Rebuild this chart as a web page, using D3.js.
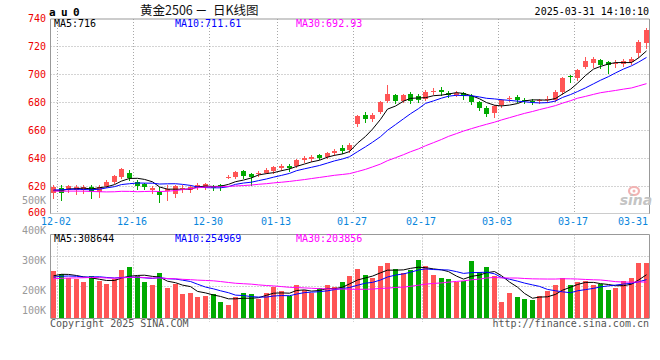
<!DOCTYPE html>
<html><head><meta charset="utf-8">
<script src="https://cdn.jsdelivr.net/npm/d3@7"></script>
<style>
html,body{margin:0;padding:0;background:#fff;}
svg{display:block;}
text{font-family:"DejaVu Sans Mono",monospace;}
</style></head><body>
<svg id="c" width="660" height="360"></svg>
<script>
// ---------------- data ----------------
const dates = ["12-02","12-03","12-04","12-05","12-06","12-09","12-10","12-11","12-12","12-13",
"12-16","12-17","12-18","12-19","12-20","12-23","12-24","12-25","12-26","12-27",
"12-30","12-31","01-02","01-03","01-06","01-07","01-08","01-09","01-10",
"01-13","01-14","01-15","01-16","01-17","01-20","01-21","01-22","01-23","01-24",
"01-27","02-05","02-06","02-07","02-10","02-11","02-12","02-13","02-14",
"02-17","02-18","02-19","02-20","02-21","02-24","02-25","02-26","02-27","02-28",
"03-03","03-04","03-05","03-06","03-07","03-10","03-11","03-12","03-13","03-14",
"03-17","03-18","03-19","03-20","03-21","03-24","03-25","03-26","03-27","03-28","03-31"];
const openP = [614.8,618.5,617.1,617.5,617.5,619.5,616,620,623,626.5,
629.5,623,621.5,617.5,616,616.6,614,618,617,619.5,
619.5,619.5,620.7,626,626.6,630.5,628.6,628.6,629.5,
630.5,632.5,634.5,634,638.5,639.5,642,640.5,643.5,647,
645.5,664,671,668,673,681,685,681,686,
684,682,687.5,688.5,686.5,685,686.5,684,680,676,
672,678,682,683.5,681.5,681,680.5,681.5,681.4,687.4,
698.6,697,705.2,707.6,710,708.8,707,707.1,708.8,714.8,721.9];
const highP = [620.7,620.5,620.7,621,621,620.5,620.5,624,628,633,
631.5,624,622,620,619.5,620.7,621,620.5,621,622,
622.5,621,621.5,628,631,631.5,629,631,632.5,
634.5,635.5,636,639.5,641.5,642,643,644.5,646.5,649,
651,671,672.5,672,681,692,686,686,687,
685.5,688.5,690,690.5,688,688,687.5,685.5,681,677,
678,682.5,684.5,685,683,682,682.5,684,688.6,698,
699.3,703.5,711.9,712.4,711,709.5,710,710.5,712,724.3,732.6];
const lowP = [611.4,610,616,614,615,611.5,612.5,619,622,626,
624.5,618,618,615,608.8,610,612,616,616,618,
618,617,617,625.5,626,626,620.7,627,629,
629.5,631.5,631,633.5,637.5,638,639,640,642.5,643.5,
644.5,663,666,666.5,672,680,679,680,679.5,
680,681.5,685.5,685,683.5,684,682,678.5,674.5,670,
669.5,676.5,680.5,680,679,678.5,679,680,680.5,686,
694.5,696,704,705.2,704.5,701,705,706,707,711.9,718.4];
const closeP = [619.5,614.8,620,619,619.5,616,619.5,623,627,632,
625.5,620,619,618.5,613.6,617.6,620,618.5,619.5,620.7,
621.2,618.4,619.1,626.5,630.2,627,626.2,629.5,631.4,
633.5,634,632.5,638.5,640,641,640,643.5,645,645,
649.5,670,667.5,671,680,686,681,685,681,
681.5,687,688,687,685,686.5,684,680,676,671.5,
677,681.5,683,681.5,681,680.5,681.5,682,687.4,697,
697.6,703,709.5,710.5,706.4,706.4,708,709.5,710.5,723,731.4];
const volume = [250000,240000,228000,222000,212000,232000,218000,208000,222000,252000,
262000,232000,212000,202000,242000,192000,207000,172000,177000,162000,
167000,172000,148000,137000,162000,177000,172000,157000,177000,
197000,182000,167000,202000,187000,177000,192000,202000,197000,212000,
232000,257000,237000,227000,267000,276000,257000,242000,252000,
287000,267000,237000,227000,222000,212000,217000,283000,247000,262000,
232000,148000,177000,162000,157000,152000,167000,182000,202000,227000,
202000,212000,217000,202000,207000,187000,192000,217000,227000,276000,276000];
// sessions before 12-02, needed for the moving averages at the left edge
const priorClose = [620,618,619,621,622,625,627,624,622,
627,628,614,613,620,611,604,600,598,601,
608,613,617,618,622,618,615,614,618,617];
const priorVolume = [190000,200000,210000,195000,205000,230000,250000,240000,220000,
215000,205000,260000,250000,230000,245000,235000,225000,215000,205000,
200000,210000,220000,230000,240000,225000,215000,230000,240000,235000];
const priceTicks = [740,720,700,680,660,640,620,600];
const priceGrid = [720,700,680,660,640,620];
const volumeTicks = [500000,400000,300000,200000,100000];
const volumeGrid = [300000,200000];
const dateTicks = ["12-02","12-16","12-30","01-13","01-27","02-17","03-03","03-17","03-31"];
const priceMALabels = ["MA5:716","MA10:711.61","MA30:692.93"];
const volumeMALabels = ["MA5:308644","MA10:254969","MA30:203856"];
const maPeriods = [5,10,30];
const maColors = ["#000000","#0000ff","#ff00ff"];
const titleSymbol = "au0";
const titleParts = ["黄金2506", "－", "日K线图"];
const stampText = "2025-03-31 14:10:10";

// ---------------- drawing ----------------
const svg = d3.select("#c");
const RED = "#ff5555", GREEN = "#00aa00", GRID = "#a8a8a8", BORDER = "#999";
const x = d3.scaleBand().domain(dates).range([49.2, 649.6]);
const bw = x.bandwidth();
const cx = d => x(d) + bw / 2;
const py = d3.scaleLinear().domain([600, 740]).range([214, 18]);
const vy = d3.scaleLinear().domain([100000, 300000]).range([316, 256]);
const PT = 19, PB = 213.5, VT = 234.5, VB = 318, XL = 50.5, XR = 649.5;

function ma(prior, vals, n) {
  const all = prior.concat(vals), P = prior.length;
  return vals.map((v, i) => d3.mean(all.slice(P + i - n + 1, P + i + 1)));
}

// grid
const g = svg.append("g");
priceGrid.forEach(v => {
  const yy = Math.round(py(v)) + 0.5;
  g.append("line").attr("x1", XL).attr("x2", XR).attr("y1", yy).attr("y2", yy)
    .attr("stroke", GRID).attr("stroke-dasharray", "1,2");
});
volumeGrid.forEach(v => {
  const yy = Math.round(vy(v)) + 0.5;
  g.append("line").attr("x1", XL).attr("x2", XR).attr("y1", yy).attr("y2", yy)
    .attr("stroke", GRID).attr("stroke-dasharray", "1,2");
});
dateTicks.slice(0, -1).forEach(d => {
  const xx = Math.round(x(d) + bw) + 0.5;
  g.append("line").attr("x1", xx).attr("x2", xx).attr("y1", PT).attr("y2", PB)
    .attr("stroke", GRID).attr("stroke-dasharray", "1,2");
  g.append("line").attr("x1", xx).attr("x2", xx).attr("y1", VT).attr("y2", 322)
    .attr("stroke", GRID).attr("stroke-dasharray", "1,2");
});
// price bottom (dotted)
g.append("line").attr("x1", XL).attr("x2", XR).attr("y1", PB).attr("y2", PB)
  .attr("stroke", BORDER).attr("stroke-dasharray", "1,1");

// borders
const b = svg.append("g").attr("stroke", BORDER).attr("fill", "none");
b.append("path").attr("d", `M${XL},${PB}V${PT}H${XR}V${PB}`);
b.append("path").attr("d", `M${XL},${VB}V${VT}H${XR}V${VB}`);
b.append("line").attr("x1", XL).attr("x2", XR).attr("y1", VB + 0.5).attr("y2", VB + 0.5);

// watermark
const wm = svg.append("g");
wm.append("ellipse").attr("cx", 634).attr("cy", 191).attr("rx", 5).attr("ry", 4)
  .attr("fill", "none").attr("stroke", "#f2b3b3").attr("stroke-width", 2.2);
wm.append("circle").attr("cx", 634).attr("cy", 191).attr("r", 1.5).attr("fill", "#f2b3b3");
wm.append("text").attr("x", 636).attr("y", 205).attr("text-anchor", "middle")
  .style("font-family", "'DejaVu Sans',sans-serif").style("font-style", "italic")
  .style("font-weight", "bold").style("font-size", "14px").attr("fill", "#c4c4c4").text("sina");

// candles
const idx = d3.range(dates.length);
const cg = svg.append("g");
idx.forEach(i => {
  const up = closeP[i] >= openP[i];
  const col = up ? RED : GREEN;
  const xc = Math.round(cx(dates[i]));
  cg.append("line").attr("x1", xc + 0.5).attr("x2", xc + 0.5)
    .attr("y1", Math.round(py(highP[i]))).attr("y2", Math.round(py(lowP[i])) + 1)
    .attr("stroke", col);
  const y1 = Math.round(py(Math.max(openP[i], closeP[i])));
  const y2 = Math.round(py(Math.min(openP[i], closeP[i])));
  cg.append("rect").attr("x", xc - 2).attr("width", 5)
    .attr("y", y1).attr("height", Math.max(1, y2 - y1)).attr("fill", col);
});

// volume bars
const vg = svg.append("g");
idx.forEach(i => {
  const up = closeP[i] >= openP[i];
  const xc = Math.round(cx(dates[i]));
  const yt = Math.round(vy(volume[i]));
  vg.append("rect").attr("x", xc - 2).attr("width", 5)
    .attr("y", yt).attr("height", VB - yt).attr("fill", up ? RED : GREEN);
});

// moving averages
maPeriods.forEach((n, k) => {
  const m = ma(priorClose, closeP, n);
  svg.append("path").datum(idx)
    .attr("d", d3.line().x(i => Math.round(cx(dates[i])) + 0.5).y(i => py(m[i])))
    .attr("fill", "none").attr("stroke", maColors[k]).attr("stroke-width", 1);
  const mv = ma(priorVolume, volume, n);
  svg.append("path").datum(idx)
    .attr("d", d3.line().x(i => Math.round(cx(dates[i])) + 0.5).y(i => vy(mv[i])))
    .attr("fill", "none").attr("stroke", maColors[k]).attr("stroke-width", 1);
});

// axis labels
const t = svg.append("g").style("font-size", "10px");
priceTicks.forEach(v => {
  const yy = Math.min(212, Math.max(16, py(v)));
  t.append("text").attr("x", 46).attr("y", yy + 3.6).attr("text-anchor", "end")
    .attr("fill", "#ee0000").text(v);
});
volumeTicks.forEach(v => {
  const yy = Math.min(310.5, vy(v) + 4);
  t.append("text").attr("x", 46).attr("y", yy + 3.6).attr("text-anchor", "end")
    .attr("fill", "#999").text((v / 1000) + "K");
});
dateTicks.forEach((d, k) => {
  const last = k === dateTicks.length - 1;
  const xx = last ? 648 : Math.round(x(d) + bw) - 1;
  t.append("text").attr("x", xx).attr("y", 224.6)
    .attr("text-anchor", last ? "end" : "middle").attr("fill", "#0a86dc").text(d);
});

// legends
const lx = [54, 175, 296];
priceMALabels.forEach((s, k) => t.append("text").attr("x", lx[k]).attr("y", 27.3)
  .attr("fill", maColors[k]).text(s));
volumeMALabels.forEach((s, k) => t.append("text").attr("x", lx[k]).attr("y", 241.6)
  .attr("fill", maColors[k]).text(s));

// header
svg.append("text").attr("x", 49).attr("y", 15.5).style("font-size", "11px")
  .style("font-weight", "bold").style("letter-spacing", "5.4px").attr("fill", "#000").text(titleSymbol);
const tt = svg.append("text").attr("y", 14.8)
  .style("font-family", "'Noto Sans CJK SC',sans-serif").style("font-size", "12.5px")
  .attr("fill", "#111");
tt.append("tspan").attr("x", 140).text(titleParts[0]);
tt.append("tspan").attr("x", 195).text(titleParts[1]);
tt.append("tspan").attr("x", 213).text(titleParts[2]);
t.append("text").attr("x", 649).attr("y", 15).attr("text-anchor", "end")
  .attr("fill", "#000").text(stampText);

// footer
t.append("text").attr("x", 50).attr("y", 326.8).attr("fill", "#555").text("Copyright 2025 SINA.COM");
t.append("text").attr("x", 649).attr("y", 326.8).attr("text-anchor", "end")
  .attr("fill", "#555").text("http://finance.sina.com.cn");
</script>
</body></html>
